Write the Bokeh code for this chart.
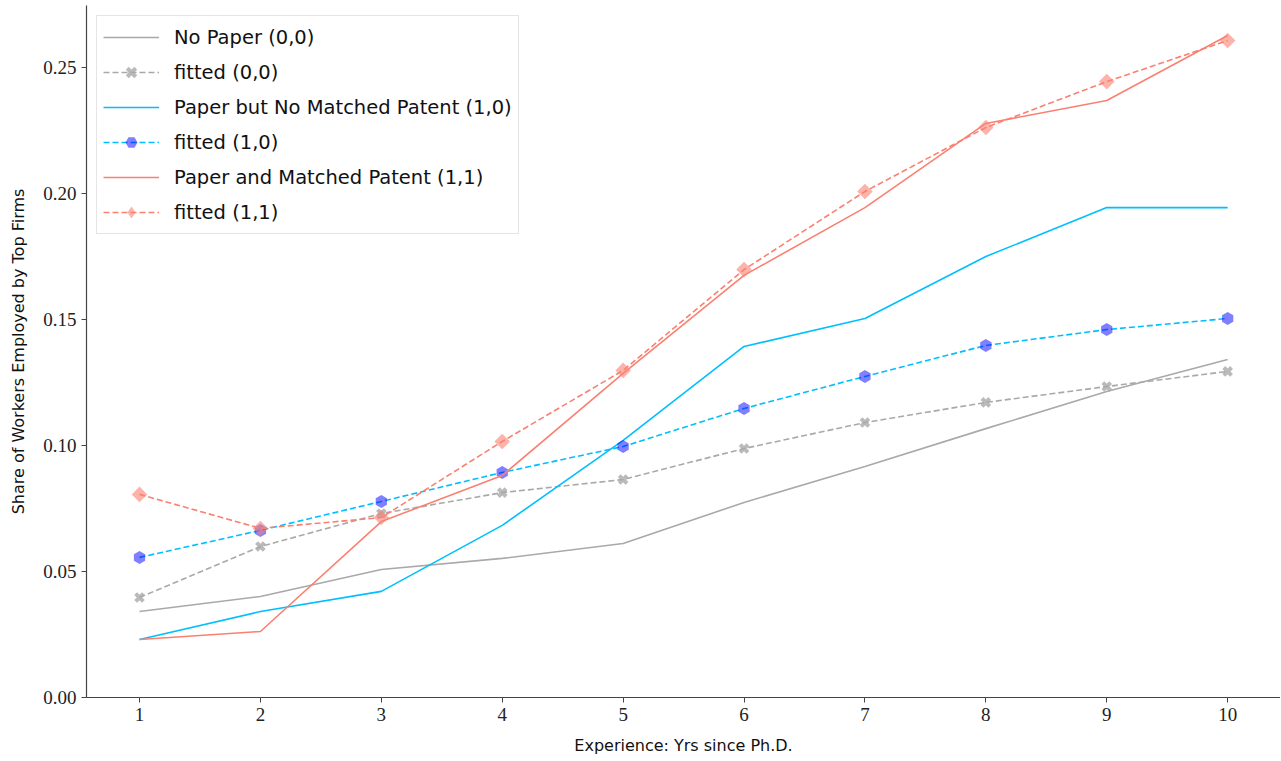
import math
from bokeh.plotting import figure
from bokeh.models import FixedTicker, PrintfTickFormatter, Range1d
from bokeh.embed import file_html
from bokeh.resources import INLINE

years = [1, 2, 3, 4, 5, 6, 7, 8, 9, 10]
no_paper = [0.0341, 0.0401, 0.0508, 0.0552, 0.0611, 0.0774, 0.0917, 0.1067, 0.1214, 0.1341]
fit_no_paper = [0.0397, 0.0599, 0.0730, 0.0813, 0.0865, 0.0988, 0.1091, 0.1171, 0.1234, 0.1294]
paper_no_patent = [0.0230, 0.0341, 0.0421, 0.0683, 0.1020, 0.1393, 0.1504, 0.1750, 0.1944, 0.1944]
fit_paper_no_patent = [0.0556, 0.0663, 0.0778, 0.0893, 0.0996, 0.1147, 0.1274, 0.1397, 0.1460, 0.1504]
paper_patent = [0.0230, 0.0262, 0.0698, 0.0881, 0.1286, 0.1675, 0.1944, 0.2278, 0.2369, 0.2627]
fit_paper_patent = [0.0806, 0.0671, 0.0714, 0.1016, 0.1298, 0.1698, 0.2008, 0.2262, 0.2444, 0.2607]
y_ticks = [0.0, 0.05, 0.10, 0.15, 0.20, 0.25]

p = figure(width=1280, height=760, output_backend="svg", toolbar_location=None,
           x_range=Range1d(0.5616, 10.437), y_range=Range1d(0, 0.2746),
           min_border_left=86, min_border_right=0, min_border_top=5, min_border_bottom=63)
p.outline_line_color = None
p.grid.visible = False
p.background_fill_color = "white"

gray = "#a9a9a9"
cyan = "#00bfff"
salmon = "#fa8072"
dash = "6 3"
nan = float("nan")

p.line(years, no_paper, color=gray, line_width=1.6, legend_label="No Paper (0,0)")
p.line(years, fit_no_paper, color=gray, line_width=1.6, line_dash=dash, legend_label="fitted (0,0)")
p.scatter(years, fit_no_paper, marker="x", size=11, line_width=4, color=gray, alpha=0.8,
          legend_label="fitted (0,0)")
p.line(years, paper_no_patent, color=cyan, line_width=1.6, legend_label="Paper but No Matched Patent (1,0)")
p.line(years, fit_paper_no_patent, color=cyan, line_width=1.6, line_dash=dash, legend_label="fitted (1,0)")
p.scatter(years, fit_paper_no_patent, marker="hex", size=13, angle=math.pi / 6, color="blue", alpha=0.5,
          line_color=None, legend_label="fitted (1,0)")
p.line(years, paper_patent, color=salmon, line_width=1.6, legend_label="Paper and Matched Patent (1,1)")
p.line(years, fit_paper_patent, color=salmon, line_width=1.6, line_dash=dash, legend_label="fitted (1,1)")
p.scatter(years, fit_paper_patent, marker="square", size=11, angle=math.pi / 4, color=salmon, alpha=0.6,
          line_color=None)
# legend swatch for the diamond marker (no data point drawn)
p.scatter([nan], [nan], marker="diamond", size=19, color=salmon, alpha=0.6, line_color=None,
          legend_label="fitted (1,1)")

p.xaxis.ticker = FixedTicker(ticks=years)
p.yaxis.ticker = FixedTicker(ticks=y_ticks)
p.yaxis.formatter = PrintfTickFormatter(format="%.2f")
for ax in (p.xaxis, p.yaxis):
    ax.major_label_text_font = "Liberation Serif"
    ax.major_label_text_font_size = "19px"
    ax.major_label_text_color = "#222222"
    ax.axis_label_text_font = "DejaVu Sans"
    ax.axis_label_text_font_size = "16px"
    ax.axis_label_text_font_style = "normal"
    ax.axis_label_text_color = "#111111"
    ax.axis_label_standoff = 12
    ax.minor_tick_line_color = None
    ax.major_tick_out = 5
    ax.major_tick_in = 0
    ax.axis_line_color = "#444444"
    ax.major_tick_line_color = "#444444"
    ax.axis_line_width = 1.2
p.xaxis.axis_label = "Experience: Yrs since Ph.D."
p.yaxis.axis_label = "Share of Workers Employed by Top Firms"

lg = p.legend[0]
lg.location = "top_left"
lg.margin = 10
lg.padding = 6
lg.spacing = 5
lg.glyph_width = 56
lg.glyph_height = 30
lg.label_height = 30
lg.label_standoff = 15
lg.label_text_font = "DejaVu Sans"
lg.label_text_font_size = "19.5px"
lg.label_text_color = "#111111"
lg.border_line_color = "#cccccc"
lg.background_fill_alpha = 0.8

open("out.html", "w").write(file_html(p, INLINE))
